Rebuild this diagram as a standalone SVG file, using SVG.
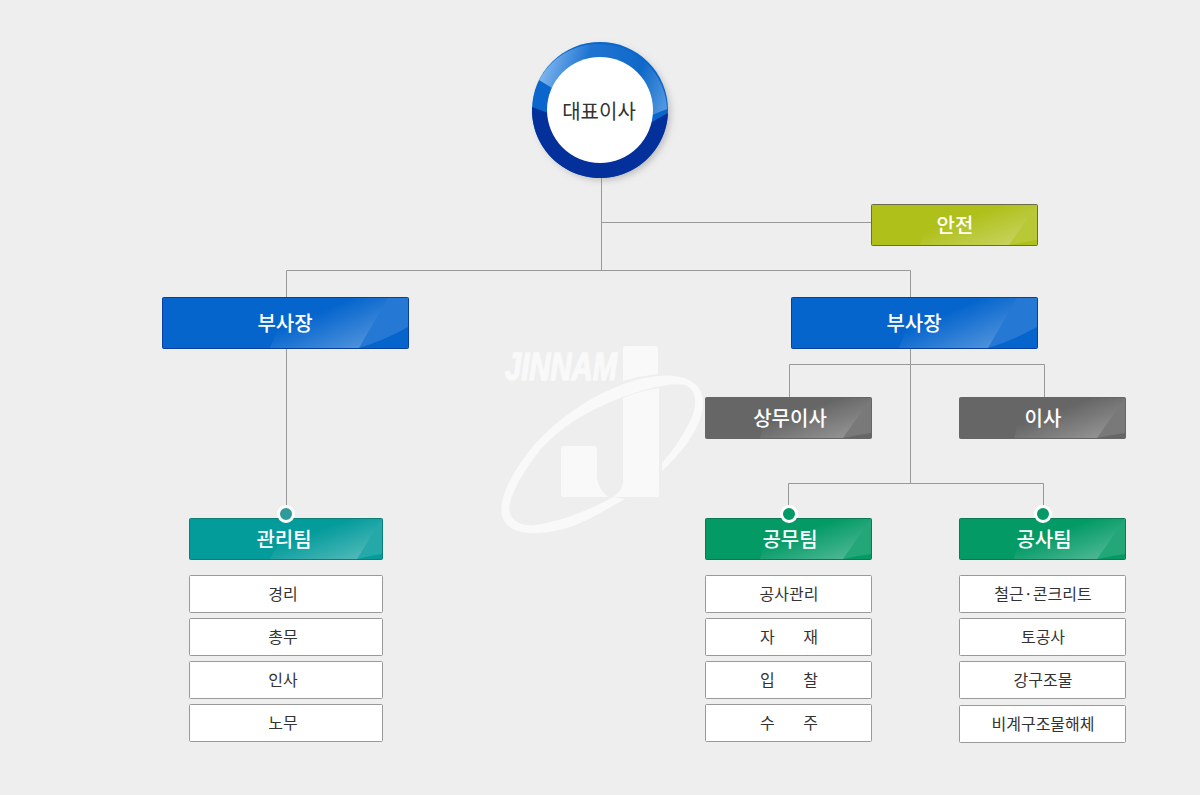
<svg xmlns="http://www.w3.org/2000/svg" width="1200" height="795" viewBox="0 0 1200 795">
<style>
text{font-family:"Noto Sans CJK KR","Liberation Sans",sans-serif;text-anchor:middle}
.n{font-size:20px;font-weight:500;fill:#fff}
.l{font-size:16px;fill:#333}
.item{fill:#fff;stroke:#999;stroke-width:1}
.c{fill:none;stroke:#999;stroke-width:1}
.w{fill:#f9f9f9}
.g{fill:url(#gl)}
.g2{fill:#fff;fill-opacity:.13}
.dot{stroke:#fff;stroke-width:3}
</style>
<defs>
<linearGradient id="gl" x1="0" y1="0" x2="1" y2="1"><stop offset="0.35" stop-color="#fff" stop-opacity="0"/><stop offset="1" stop-color="#fff" stop-opacity=".36"/></linearGradient>
<linearGradient id="ring" gradientUnits="userSpaceOnUse" x1="540" y1="70" x2="668" y2="115"><stop offset="0" stop-color="#84b9f0"/><stop offset="0.3" stop-color="#1f74d2"/><stop offset="0.7" stop-color="#0f68c8"/><stop offset="1" stop-color="#5b9fe4"/></linearGradient>
<filter id="sh" x="-20%" y="-20%" width="150%" height="150%"><feGaussianBlur stdDeviation="3.500"/></filter>
</defs>
<rect width="1200" height="795" fill="#eeeeee"/>
<g id="watermark">
<text x="561" y="380" style="font-family:'Liberation Sans',sans-serif;font-size:39px;font-weight:700;font-style:italic" fill="#f9f9f9" stroke="#f9f9f9" stroke-width="1.500" textLength="112" lengthAdjust="spacingAndGlyphs">JINNAM</text>
<path class="w" d="M623 349Q623 346 626 346H655Q658 346 658 349V374Q640 376 623 381Z"/>
<path class="w" d="M659 388V495Q659 497 656 497H613Q622 491 623 482V398Q640 391 659 388Z"/>
<path class="w" d="M561 449Q561 446 564 446H594Q597 446 597 449V478Q598 488 608 497H563Q561 497 561 495Z"/>
<path class="w" d="M662 471C685 450 703 425 703 402C703 378 675 370 640 379C600 389 557 417 530 450C505 482 495 510 505 522C515 537 545 535 570 527C590 520 605 510 625 499L613 497C590 510 560 522 535 525C517 527 506 517 510 503C514 487 525 470 540 450C565 422 595 408 623 397C650 387 672 382 685 385C698 390 698 408 688 425C680 440 672 452 662 463Z"/>
</g>
<g id="connectors">
<path class="c" d="M601.500 178V270.500M601.500 222.500H871M286.500 297V270.500H910.500V297M286.500 349V510M910.500 349V483.500M789.500 397V364.500H1044.500V397M788.500 510V483.500H1043.500V510"/>
</g>
<g id="ceo">
<circle cx="603" cy="113" r="67" fill="#888" fill-opacity=".5" filter="url(#sh)"/>
<circle cx="600" cy="110" r="68" fill="#0a66cc"/>
<path d="M668 113A68 68 0 0 1 532 107L548 113L652 122Z" fill="#03309a"/>
<path d="M539 80A68 68 0 0 1 667 109L652 115L552 88Z" fill="url(#ring)"/>
<circle cx="600" cy="110" r="53" fill="#fff"/>
<text x="599" y="119" style="font-size:20px;font-weight:400;fill:#333">대표이사</text>
</g>
<g id="safety">
<rect x="871.500" y="204.500" width="166" height="41" rx="1" fill="#afc01a" stroke="#6b6b4a"/>
<path class="g" d="M930 205H1037L1009 245H920Z"/>
<path class="g2" d="M1037 205V240Q1023 242 1009 245Z"/>
<text class="n" x="955" y="233">안전</text>
</g>
<g id="vp-left">
<rect x="162.500" y="297.500" width="246" height="51" rx="1" fill="#0565cd" stroke="#0b3f9e"/>
<path class="g" d="M290 298H388L359 348H270Z"/>
<path class="g2" d="M388 298H408V327Q385 340 359 348Z"/>
<text class="n" x="285" y="331">부사장</text>
</g>
<g id="vp-right">
<rect x="791.500" y="297.500" width="246" height="51" rx="1" fill="#0565cd" stroke="#0b3f9e"/>
<path class="g" d="M919 298H1017L988 348H899Z"/>
<path class="g2" d="M1017 298H1037V327Q1014 340 988 348Z"/>
<text class="n" x="914" y="331">부사장</text>
</g>
<g id="exec">
<rect x="705.500" y="397.500" width="166" height="41" rx="1" fill="#666" stroke="#666"/>
<path class="g" d="M770 398H871L843 438H760Z"/>
<path class="g2" d="M871 398V433Q857 435 843 438Z"/>
<text class="n" x="790" y="426">상무이사</text>
</g>
<g id="director">
<rect x="959.500" y="397.500" width="166" height="41" rx="1" fill="#666" stroke="#666"/>
<path class="g" d="M1024 398H1125L1097 438H1014Z"/>
<path class="g2" d="M1125 398V433Q1111 435 1097 438Z"/>
<text class="n" x="1043" y="426">이사</text>
</g>
<g id="team-admin">
<rect x="189.500" y="518.500" width="193" height="41" rx="1" fill="#049b9b" stroke="#0a7f78"/>
<path class="g" d="M290 519H382L357 559H270Z"/>
<path class="g2" d="M382 519V554Q369 556 357 559Z"/>
<text class="n" x="284" y="547">관리팀</text>
<circle class="dot" cx="286" cy="514" r="7.500" fill="#2f9a9a"/>
</g>
<g id="team-eng">
<rect x="705.500" y="518.500" width="166" height="41" rx="1" fill="#039a66" stroke="#0a7a54"/>
<path class="g" d="M770 519H871L843 559H760Z"/>
<path class="g2" d="M871 519V554Q857 556 843 559Z"/>
<text class="n" x="790" y="547">공무팀</text>
<circle class="dot" cx="789" cy="514" r="7.500" fill="#039a66"/>
</g>
<g id="team-con">
<rect x="959.500" y="518.500" width="166" height="41" rx="1" fill="#039a66" stroke="#0a7a54"/>
<path class="g" d="M1024 519H1125L1097 559H1014Z"/>
<path class="g2" d="M1125 519V554Q1111 556 1097 559Z"/>
<text class="n" x="1044" y="547">공사팀</text>
<circle class="dot" cx="1043" cy="514" r="7.500" fill="#039a66"/>
</g>
<g id="admin-items">
<rect class="item" x="189.500" y="575.500" width="193" height="37" rx="1"/><text class="l" x="283" y="600">경리</text>
<rect class="item" x="189.500" y="618.500" width="193" height="37" rx="1"/><text class="l" x="283" y="643">총무</text>
<rect class="item" x="189.500" y="661.500" width="193" height="37" rx="1"/><text class="l" x="283" y="686">인사</text>
<rect class="item" x="189.500" y="704.500" width="193" height="37" rx="1"/><text class="l" x="283" y="729">노무</text>
</g>
<g id="eng-items">
<rect class="item" x="705.500" y="575.500" width="166" height="37" rx="1"/><text class="l" x="789" y="600">공사관리</text>
<rect class="item" x="705.500" y="618.500" width="166" height="37" rx="1"/><text class="l" x="789" y="643" xml:space="preserve">자        재</text>
<rect class="item" x="705.500" y="661.500" width="166" height="37" rx="1"/><text class="l" x="789" y="686" xml:space="preserve">입        찰</text>
<rect class="item" x="705.500" y="704.500" width="166" height="37" rx="1"/><text class="l" x="789" y="729" xml:space="preserve">수        주</text>
</g>
<g id="con-items">
<rect class="item" x="959.500" y="575.500" width="166" height="37" rx="1"/><text class="l" x="1043" y="600">철근·콘크리트</text>
<rect class="item" x="959.500" y="618.500" width="166" height="37" rx="1"/><text class="l" x="1043" y="643">토공사</text>
<rect class="item" x="959.500" y="661.500" width="166" height="37" rx="1"/><text class="l" x="1043" y="686">강구조물</text>
<rect class="item" x="959.500" y="705.500" width="166" height="37" rx="1"/><text class="l" x="1043" y="730">비계구조물해체</text>
</g>
</svg>
